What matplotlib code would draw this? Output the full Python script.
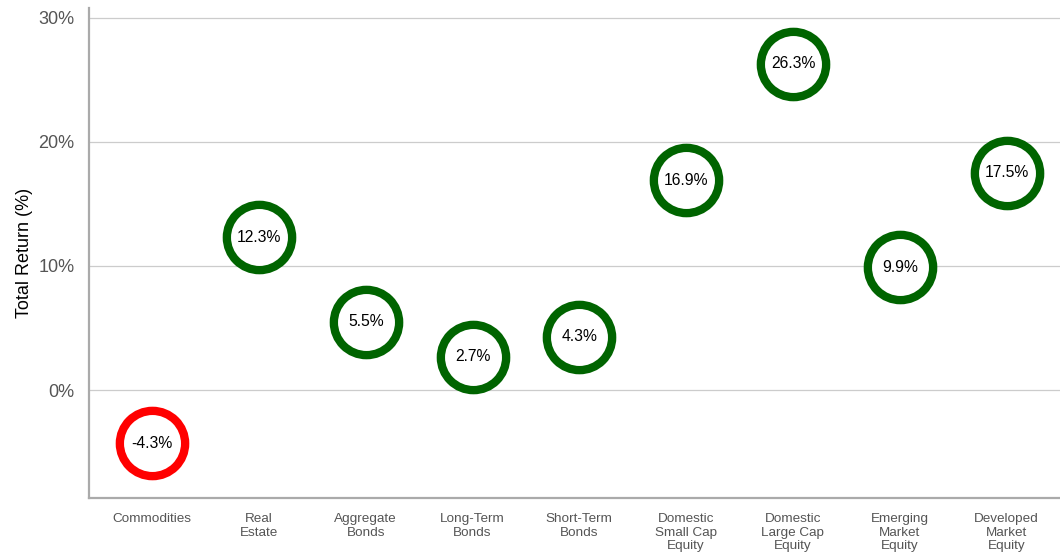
import matplotlib
matplotlib.use("Agg")
import matplotlib.pyplot as plt
from matplotlib.ticker import FuncFormatter

plt.rcParams["font.family"] = ["Liberation Sans", "DejaVu Sans"]

asset_classes = [
    "Commodities",
    "Real\nEstate",
    "Aggregate\nBonds",
    "Long-Term\nBonds",
    "Short-Term\nBonds",
    "Domestic\nSmall Cap\nEquity",
    "Domestic\nLarge Cap\nEquity",
    "Emerging\nMarket\nEquity",
    "Developed\nMarket\nEquity",
]
total_returns = [-4.3, 12.3, 5.5, 2.7, 4.3, 16.9, 26.3, 9.9, 17.5]
y_ticks = [0, 10, 20, 30]

GREEN = "#006400"
RED = "#ff0000"

fig = plt.figure(figsize=(10.6, 5.52), dpi=100)
ax = fig.add_axes([0.084, 0.098, 0.916, 0.8875])

xs = list(range(len(asset_classes)))
for x, val in zip(xs, total_returns):
    color = GREEN if val >= 0 else RED
    ax.plot(x, val, marker="o", markersize=47, markerfacecolor="white",
            markeredgecolor=color, markeredgewidth=6, zorder=3)
    ax.text(x, val, f"{val:.1f}%", ha="center", va="center",
            fontsize=11.3, color="black", zorder=4)

ax.set_xlim(-0.59, 8.5)
ax.set_ylim(-8.7, 30.8)
ax.set_yticks(y_ticks)
ax.yaxis.set_major_formatter(FuncFormatter(lambda v, _: f"{v:.0f}%"))
ax.set_xticks(xs)
ax.set_xticklabels(asset_classes, fontsize=9.7, color="#555555", linespacing=1.15)
ax.tick_params(axis="y", length=0, labelsize=13, labelcolor="#555555", pad=10.5)
ax.tick_params(axis="x", length=0, pad=11)
ax.set_ylabel("Total Return (%)", fontsize=13, labelpad=4)

ax.grid(axis="y", color="#cccccc", linewidth=0.9)
ax.set_axisbelow(True)
for side in ("top", "right"):
    ax.spines[side].set_visible(False)
for side in ("left", "bottom"):
    ax.spines[side].set_color("#aaaaaa")
    ax.spines[side].set_linewidth(1.6)

fig.savefig("out.png", dpi=100)
